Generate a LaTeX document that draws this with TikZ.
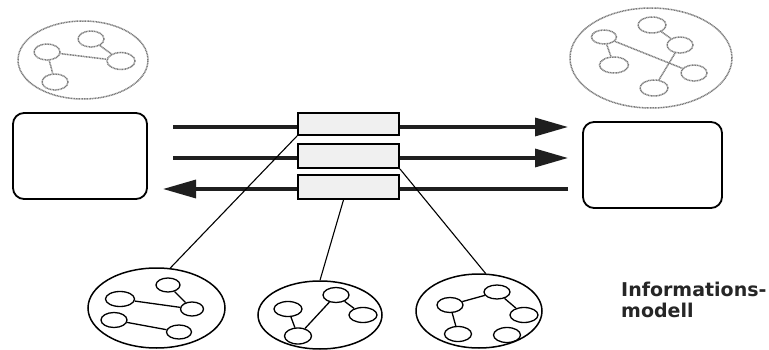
\documentclass[tikz,border=0pt]{standalone}
\usepackage{fontspec}
\newfontfamily\labelfont{DejaVu Sans}
\usetikzlibrary{shapes.geometric,arrows.meta}

\begin{document}
\begin{tikzpicture}[x=1pt,y=-1pt,
  fuzzy/.style={draw=black!52, line width=1.5pt, dash pattern=on 1pt off 0.6pt},
  cloud/.style={ellipse, fuzzy, inner sep=0},
  fitem/.style={ellipse, fuzzy, minimum width=26pt, minimum height=16pt, inner sep=0},
  sysbox/.style={draw, line width=1.8pt, rounded corners=11pt, minimum height=86pt, inner sep=0},
  msg/.style={draw, line width=1.8pt, fill=gray!12, minimum width=101pt, inner sep=0},
  flow/.style={draw=black!88, line width=3.3pt, -{Triangle[length=33pt,width=18pt]}},
  link/.style={line width=1.1pt},
  model/.style={ellipse, draw, line width=1.5pt, inner sep=0},
  item/.style={ellipse, draw, line width=1.3pt, minimum width=26pt, minimum height=15pt, inner sep=0}]

\fill[white] (0,0) rectangle (769,350);
\useasboundingbox (0,0) rectangle (769,350);

% the two communicating systems
\node[sysbox, minimum width=134pt] (lsys) at (80,156) {};
\node[sysbox, minimum width=139pt] (rsys) at (652.5,165) {};

% message flows between the systems
\coordinate (f1s) at (173,127); \coordinate (f1e) at (568,127);
\coordinate (f2s) at (173,158); \coordinate (f2e) at (568,158);
\coordinate (f3s) at (568,189); \coordinate (f3e) at (163,189);
\draw[flow] (f1s) -- (f1e);
\draw[flow] (f2s) -- (f2e);
\draw[flow] (f3s) -- (f3e);

% messages on the flows
\node[msg, minimum height=22pt] (m1) at (348.5,124) {};
\node[msg, minimum height=24pt] (m2) at (348.5,156) {};
\node[msg, minimum height=24pt] (m3) at (348.5,187) {};

% private models of the two systems
\node[cloud, minimum width=130pt, minimum height=78pt] (t1) at (83,60) {};
\node[fitem] (p1) at (47,52) {};
\node[fitem] (p2) at (91,39) {};
\node[fitem, minimum width=28pt, minimum height=17pt] (p3) at (121,61) {};
\node[fitem] (p4) at (55,82) {};
\draw[fuzzy] (p1) -- (p3);
\draw[fuzzy] (p2) -- (p3);
\draw[fuzzy] (p1) -- (p4);

\node[cloud, minimum width=162pt, minimum height=100pt] (t2) at (651,58) {};
\node[fitem, minimum width=25pt, minimum height=14pt] (q1) at (604,37) {};
\node[fitem, minimum width=28pt] (q2) at (652,25) {};
\node[fitem] (q3) at (680,45) {};
\node[fitem, minimum width=29pt] (q4) at (614,65) {};
\node[fitem] (q5) at (694,73) {};
\node[fitem, minimum width=28pt] (q6) at (654,88) {};
\draw[fuzzy] (q1) -- (q4);
\draw[fuzzy] (q1) -- (q5);
\draw[fuzzy] (q2) -- (q3);
\draw[fuzzy] (q3) -- (q6);

% shared information models
\node[model, minimum width=137pt, minimum height=80pt] (b1) at (156.5,308) {};
\node[item, minimum width=24pt, minimum height=14pt] (a1) at (168,285) {};
\node[item, minimum width=29pt] (a2) at (120,299) {};
\node[item, minimum width=23pt, minimum height=14pt] (a3) at (192,309) {};
\node[item] (a4) at (114,320) {};
\node[item, minimum width=25pt, minimum height=14pt] (a5) at (179,332) {};
\draw[line width=1.3pt] (a1) -- (a3);
\draw[line width=1.3pt] (a2) -- (a3);
\draw[line width=1.3pt] (a4) -- (a5);

\node[model, minimum width=124pt, minimum height=68pt] (b2) at (320,315) {};
\node[item, minimum width=28pt] (c1) at (288,309) {};
\node[item] (c2) at (336,295) {};
\node[item, minimum width=28pt] (c3) at (363,315) {};
\node[item, minimum width=27pt, minimum height=16pt] (c4) at (298,336) {};
\draw[line width=1.3pt] (c1) -- (c4);
\draw[line width=1.3pt] (c2) -- (c4);
\draw[line width=1.3pt] (c2) -- (c3);

\node[model, minimum width=126pt, minimum height=74pt] (b3) at (479,311) {};
\node[item, minimum width=26pt, minimum height=14pt] (d1) at (497,292) {};
\node[item] (d2) at (450,305) {};
\node[item, minimum width=28pt] (d3) at (524,315) {};
\node[item, minimum width=27pt] (d4) at (458,334) {};
\node[item, minimum width=27pt] (d5) at (507,335) {};
\draw[line width=1.3pt] (d2) -- (d1);
\draw[line width=1.3pt] (d1) -- (d3);
\draw[line width=1.3pt] (d2) -- (d4);

% messages refer to the information models
\draw[link] (m1.south west) -- (b1.71);
\draw[link] ([xshift=-5pt]m3.south) -- (b2.north);
\draw[link] (m2.south east) -- (b3.80);

\node[anchor=north west, align=left, inner sep=0, text=black!85,
      font=\labelfont\bfseries\fontsize{19}{21}\selectfont] (info) at (621,281.5)
      {Informations-\\modell};
\end{tikzpicture}
\end{document}
